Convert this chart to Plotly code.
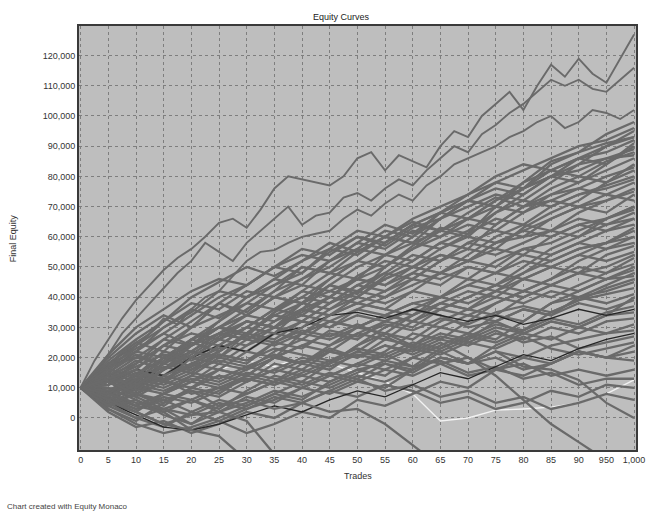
import plotly.graph_objects as go

# ---------------- data (equity in thousands) ----------------
TRADES = [0, 5, 10, 15, 20, 25, 30, 35, 40, 45, 50, 55, 60, 65, 70, 75, 80, 85, 90, 95, 100]
TRADES_FINE = [0, 2.5, 5, 7.5, 10, 12.5, 15, 17.5, 20, 22.5, 25, 27.5, 30, 32.5, 35, 37.5, 40,
               42.5, 45, 47.5, 50, 52.5, 55, 57.5, 60, 62.5, 65, 67.5, 70, 72.5, 75, 77.5, 80,
               82.5, 85, 87.5, 90, 92.5, 95, 97.5, 100]

X_TICK_VALS = [0, 5, 10, 15, 20, 25, 30, 35, 40, 45, 50, 55, 60, 65, 70, 75, 80, 85, 90, 95, 100]
X_TICK_TEXT = ["0", "5", "10", "15", "20", "25", "30", "35", "40", "45", "50", "55", "60",
               "65", "70", "75", "80", "85", "90", "950", "1,000"]
Y_TICK_VALS = [0, 10000, 20000, 30000, 40000, 50000, 60000, 70000, 80000, 90000,
               100000, 110000, 120000]
Y_TICK_TEXT = ["0", "10,000", "20,000", "30,000", "40,000", "50,000", "60,000", "70,000",
               "80,000", "90,000", "100,000", "110,000", "120,000"]

WHITE_CURVE = [10, 12, 15, 14, 18, 16, 19, 17, 20, 18, 15, 12, 8, -1, 0, 2.6, 3, 3.6, 5, 8, 12.6]

MASS_UPPER = [
    [10, 18, 25, 22, 30, 38, 35, 42, 50, 48, 55, 60, 58, 66, 72, 70, 78, 85, 88, 94, 98],
    [10, 5, 12, 20, 17, 24, 30, 28, 36, 44, 41, 50, 56, 62, 60, 68, 74, 80, 84, 90, 95],
    [10, 15, 22, 30, 36, 33, 40, 46, 44, 52, 58, 64, 61, 68, 72, 78, 76, 84, 88, 91, 93],
    [10, 13, 9, 16, 24, 30, 27, 35, 40, 46, 52, 50, 57, 63, 61, 70, 76, 80, 86, 84, 90],
    [10, 20, 28, 34, 30, 38, 44, 50, 48, 55, 60, 57, 63, 66, 72, 70, 76, 82, 80, 85, 88],
    [10, 8, 15, 12, 20, 26, 32, 30, 38, 42, 40, 47, 52, 58, 56, 64, 70, 74, 78, 82, 86],
    [10, 16, 24, 30, 35, 42, 40, 46, 52, 56, 54, 60, 65, 62, 68, 73, 70, 76, 80, 78, 84],
    [10, 6, 2, 8, 14, 20, 18, 25, 30, 36, 42, 40, 46, 52, 58, 56, 63, 68, 72, 78, 82],
    [10, 14, 20, 18, 26, 32, 38, 36, 42, 40, 47, 52, 50, 56, 61, 66, 64, 70, 74, 77, 80],
    [10, 19, 26, 32, 40, 45, 50, 47, 52, 58, 55, 60, 58, 62, 66, 64, 70, 72, 76, 74, 78],
    [10, 9, 14, 22, 20, 26, 24, 30, 36, 34, 40, 46, 50, 48, 54, 60, 64, 62, 68, 72, 76],
    [10, 4, 10, 16, 22, 20, 28, 34, 32, 38, 44, 42, 48, 54, 52, 58, 62, 66, 70, 68, 74],
    [10, 17, 23, 28, 34, 40, 44, 50, 56, 54, 60, 58, 64, 62, 66, 70, 68, 72, 70, 74, 72],
    [10, 12, 8, 14, 18, 16, 22, 20, 28, 34, 38, 36, 42, 48, 52, 56, 54, 60, 64, 66, 70],
    [10, 15, 21, 18, 24, 30, 34, 40, 38, 44, 42, 46, 50, 54, 52, 58, 60, 62, 66, 64, 68],
    [10, 16, 14, 20, 26, 30, 36, 42, 46, 52, 58, 56, 62, 60, 66, 72, 76, 80, 78, 84, 91],
    [10, 11, 18, 26, 32, 38, 34, 40, 46, 50, 56, 62, 60, 68, 74, 78, 82, 86, 90, 92, 96],
    [10, 14, 10, 18, 24, 28, 34, 40, 38, 46, 52, 58, 64, 68, 66, 72, 78, 82, 86, 88, 92],
    [10, 7, 13, 19, 25, 22, 28, 35, 42, 48, 46, 54, 60, 66, 70, 74, 72, 78, 84, 86, 89],
    [10, 18, 22, 28, 24, 32, 40, 44, 48, 56, 62, 60, 66, 70, 74, 80, 84, 82, 86, 90, 93],
    [10, 12, 16, 24, 30, 34, 38, 44, 50, 48, 52, 58, 64, 68, 72, 76, 74, 80, 82, 86, 87],
    [10, 6, 11, 16, 21, 27, 32, 30, 35, 40, 46, 50, 56, 60, 64, 62, 68, 74, 76, 80, 83],
    [10, 13, 19, 16, 22, 28, 26, 32, 38, 44, 50, 54, 52, 58, 62, 68, 72, 70, 74, 76, 79],
]

MASS_MIDDLE = [
    [10, 7, 12, 18, 26, 24, 30, 36, 40, 38, 44, 48, 46, 52, 56, 54, 58, 62, 60, 64, 66],
    [10, 21, 30, 36, 42, 46, 44, 50, 54, 52, 56, 54, 58, 56, 60, 58, 62, 60, 64, 62, 64],
    [10, 3, -1, 5, 10, 8, 14, 20, 18, 24, 28, 32, 30, 36, 40, 44, 48, 52, 56, 58, 62],
    [10, 14, 18, 24, 22, 28, 32, 30, 36, 40, 38, 42, 46, 44, 50, 48, 54, 52, 56, 58, 60],
    [10, 11, 16, 14, 20, 26, 30, 36, 34, 40, 46, 44, 50, 48, 52, 50, 56, 54, 58, 56, 58],
    [10, 6, 10, 14, 12, 18, 16, 22, 26, 24, 30, 34, 32, 38, 42, 40, 46, 50, 48, 54, 57],
    [10, 18, 24, 32, 38, 36, 42, 40, 44, 42, 46, 44, 48, 46, 50, 48, 52, 50, 54, 52, 55],
    [10, 13, 10, 16, 20, 18, 24, 28, 26, 32, 30, 34, 38, 36, 40, 44, 42, 46, 50, 48, 53],
    [10, 8, 4, 8, 12, 16, 14, 20, 24, 22, 28, 26, 32, 36, 34, 38, 42, 40, 44, 48, 51],
    [10, 16, 22, 20, 26, 30, 28, 34, 38, 36, 40, 38, 42, 40, 44, 42, 46, 44, 48, 46, 49],
    [10, 12, 18, 24, 28, 26, 32, 30, 34, 32, 36, 34, 38, 40, 38, 42, 40, 44, 42, 46, 47],
    [10, 5, 8, 4, 10, 14, 12, 18, 16, 22, 20, 26, 24, 30, 28, 34, 32, 38, 40, 42, 45],
    [10, 14, 11, 17, 15, 21, 19, 25, 23, 29, 27, 31, 29, 33, 31, 35, 37, 35, 39, 41, 43],
    [10, 9, 14, 20, 24, 30, 34, 32, 36, 34, 38, 36, 34, 38, 36, 40, 38, 42, 40, 38, 41],
    [10, 17, 20, 26, 24, 28, 26, 30, 28, 32, 30, 34, 32, 30, 34, 32, 36, 34, 38, 36, 39],
    [10, 8, 14, 12, 18, 22, 28, 34, 32, 38, 42, 48, 54, 52, 58, 62, 60, 66, 70, 72, 75],
    [10, 15, 12, 18, 16, 22, 28, 26, 32, 30, 36, 40, 44, 48, 46, 52, 56, 58, 62, 66, 69],
    [10, 9, 7, 12, 10, 16, 14, 20, 24, 28, 26, 32, 36, 40, 44, 48, 46, 50, 54, 58, 63],
    [10, 4, 8, 5, 9, 7, 12, 16, 20, 18, 24, 28, 26, 32, 36, 34, 40, 44, 48, 50, 54],
    [10, 5, 0, 3, -2, 2, 7, 5, 10, 14, 18, 22, 28, 26, 32, 38, 42, 46, 52, 56, 60],
    [10, 4, 6, 1, -2, 4, 8, 12, 18, 16, 22, 28, 34, 38, 36, 42, 48, 54, 58, 62, 66],
    [10, 9, 4, 2, 6, 3, 9, 14, 12, 18, 24, 30, 34, 40, 46, 44, 50, 56, 60, 66, 70],
]

DARK_CURVES = [
    [10, 5, 1, -3, -4, -2, 1, 4, 2, 6, 9, 7, 11, 15, 13, 17, 21, 19, 23, 26, 28],
    [10, 12, 16, 14, 20, 24, 22, 28, 30, 34, 35, 33, 36, 34, 32, 34, 31, 33, 36, 34, 36],
]

MASS_LOWER = [
    [10, 7, 3, 7, 5, 9, 13, 11, 15, 19, 17, 21, 25, 23, 27, 25, 29, 33, 31, 35, 37],
    [10, 12, 16, 14, 20, 24, 22, 28, 32, 30, 34, 32, 36, 34, 30, 32, 28, 32, 30, 34, 35],
    [10, 8, 12, 10, 14, 12, 16, 20, 18, 22, 20, 24, 22, 26, 24, 28, 26, 30, 28, 32, 33],
    [10, 15, 12, 18, 22, 20, 26, 24, 28, 26, 30, 28, 24, 28, 26, 30, 28, 32, 30, 28, 31],
    [10, 4, 0, -3, 2, 6, 4, 8, 12, 10, 14, 12, 16, 20, 18, 22, 20, 24, 26, 28, 29],
    [10, 13, 17, 21, 19, 23, 27, 25, 29, 27, 31, 27, 23, 27, 25, 29, 25, 27, 23, 25, 27],
    [10, 9, 13, 11, 15, 13, 17, 15, 19, 17, 21, 19, 23, 21, 25, 23, 27, 23, 21, 23, 25],
    [10, 6, 10, 8, 12, 10, 14, 12, 16, 14, 18, 16, 20, 18, 14, 16, 20, 18, 22, 20, 22],
    [10, 12, 8, 12, 10, 14, 12, 16, 14, 18, 22, 20, 24, 22, 18, 20, 16, 18, 22, 20, 19],
    [10, 7, 4, 8, 6, 10, 8, 12, 10, 14, 12, 16, 14, 18, 20, 16, 18, 14, 16, 14, 16],
    [10, 11, 15, 13, 17, 21, 19, 23, 21, 19, 23, 21, 17, 19, 15, 17, 13, 15, 11, 13, 13],
    [10, 5, 2, -2, 1, 5, 3, 7, 5, 9, 7, 11, 9, 5, 7, 3, 5, 9, 7, 11, 10],
    [10, 8, 11, 9, 13, 11, 15, 13, 11, 15, 13, 9, 11, 7, 9, 5, 7, 3, 5, 8, 6],
    [10, 12, 9, 13, 8, 10, 13, 11, 14, 12, 16, 18, 15, 20, 18, 22, 17, 16, 12.6, 5, 0],
    [10, 3, -2, -5, -3, 0, 4, 8, 6, 12, 16, 14, 20, 24, 28, 26, 32, 38, 42, 46, 50],
    [10, 2, -3, -1, -5, -2, 2, 0, 5, 9, 13, 18, 16, 22, 26, 32, 36, 34, 40, 44, 48],
    [10, 12, 7, 3, 6, 2, 5, 9, 7, 11, 15, 19, 17, 23, 27, 31, 29, 35, 39, 43, 46],
    [10, 6, 3, 6, 2, -1, 3, 6, 10, 8, 12, 10, 16, 20, 18, 24, 28, 26, 30, 34, 40],
    [10, 10, 6, 2, -4, -1, -5, -2, 2, 0, 6, 4, 8, 12, 10, 16, 14, 18, 22, 20, 24],
]

EXIT_CURVES = [
    [10, 6, 2, -2, -4, -6, -14, None, None, None, None, None, None, None, None, None, None, None, None, None, None],
    [10, 8, 5, 3, 1, 2, -1, -12, None, None, None, None, None, None, None, None, None, None, None, None, None],
    [10, 12, 8, 6, 9, 4, 6, 3, 5, 2, 3, -2, -9, -16, None, None, None, None, None, None, None],
    [10, 13, 16, 12, 16, 19, 17, 21, 18, 23, 20, 24, 21, 25, 20, 14, 6, -2, -8, -14, None],
]

TOP_CURVE_A = [10, 19, 26, 33, 39, 44, 49, 53, 56, 60, 64.6, 66, 63, 69, 76, 80, 79, 78, 77, 80,
               86, 88, 82, 87, 85, 83, 90, 95, 93, 100, 104, 108, 102, 110, 117, 113, 119, 114,
               111, 119, 127]
TOP_CURVE_B = [10, 15, 21, 28, 33, 38, 43, 48, 52, 58, 55, 52, 58, 62, 66, 70, 64, 67, 68, 73,
               74.5, 72, 76, 79, 77, 82, 86, 90, 88, 94, 97, 101, 104, 108, 112, 110, 112, 109,
               108, 112, 116]
TOP_CURVE_C = [10, 14, 17, 22, 25, 28, 33, 31, 36, 40, 42, 47, 52, 55, 55.6, 58, 60, 61, 62, 66,
               69, 67, 71, 74, 72, 77, 80, 84, 86, 88, 90, 93, 95, 98, 100, 96, 98, 102, 101, 99,
               102]

EQUITY_UNIT = 1000

# ---------------- styling ----------------
LINE_GRAY = "#6a6a6a"
DARK = "#262626"
WHITE = "#f2f2f2"
PLOT_BG = "#bebebe"
GRID = "#7e7e7e"
FONT = "Liberation Sans Narrow, Liberation Sans, Arial, sans-serif"


def scaled(vals):
    return [None if v is None else v * EQUITY_UNIT for v in vals]


fig = go.Figure()


def add(xs, vals, color, width=2.3):
    fig.add_trace(go.Scatter(x=xs, y=scaled(vals), mode="lines",
                             line=dict(color=color, width=width),
                             hoverinfo="skip", showlegend=False, connectgaps=False))


add(TRADES, WHITE_CURVE, WHITE, 1.4)
for c in MASS_LOWER:
    add(TRADES, c, LINE_GRAY)
add(TRADES, DARK_CURVES[0], DARK, 1.3)
for c in MASS_MIDDLE:
    add(TRADES, c, LINE_GRAY)
add(TRADES, DARK_CURVES[1], DARK, 1.3)
for c in MASS_UPPER:
    add(TRADES, c, LINE_GRAY)
for c in EXIT_CURVES:
    add(TRADES, c, LINE_GRAY)
for c in (TOP_CURVE_C, TOP_CURVE_B, TOP_CURVE_A):
    add(TRADES_FINE, c, LINE_GRAY, 1.9)

fig.update_layout(
    width=656, height=517,
    margin=dict(l=79, r=11, t=26, b=67),
    paper_bgcolor="white",
    plot_bgcolor=PLOT_BG,
    font=dict(family=FONT, size=9, color="#333333"),
    xaxis=dict(range=[-0.3, 100.35], tickmode="array", tickvals=X_TICK_VALS, ticktext=X_TICK_TEXT,
               showgrid=True, gridcolor=GRID, griddash="dot", gridwidth=1,
               zeroline=False, showline=True, linecolor="#3a3a3a", linewidth=2, mirror=True,
               ticks="", tickfont=dict(size=9, color="#333333")),
    yaxis=dict(range=[-10600, 129800], tickmode="array", tickvals=Y_TICK_VALS, ticktext=Y_TICK_TEXT,
               showgrid=True, gridcolor=GRID, griddash="dot", gridwidth=1,
               zeroline=False, showline=True, linecolor="#3a3a3a", linewidth=2, mirror=True,
               ticks="", tickfont=dict(size=9, color="#333333")),
    annotations=[
        dict(text="Equity Curves", xref="paper", yref="paper", x=0.472, y=1.021,
             xanchor="center", yanchor="middle", showarrow=False,
             font=dict(family=FONT, size=9, color="#222222")),
        dict(text="Trades", xref="paper", yref="paper", x=0.5, y=-0.061,
             xanchor="center", yanchor="middle", showarrow=False,
             font=dict(family=FONT, size=9, color="#333333")),
        dict(text="Final Equity", xref="paper", yref="paper", x=-0.118, y=0.5,
             xanchor="center", yanchor="middle", showarrow=False, textangle=-90,
             font=dict(family=FONT, size=9, color="#333333")),
        dict(text="Chart created with Equity Monaco", xref="paper", yref="paper",
             x=-0.1327, y=-0.134, xanchor="left", yanchor="middle", showarrow=False,
             font=dict(family=FONT, size=8, color="#444444")),
    ],
)

fig.write_html("out.html")
